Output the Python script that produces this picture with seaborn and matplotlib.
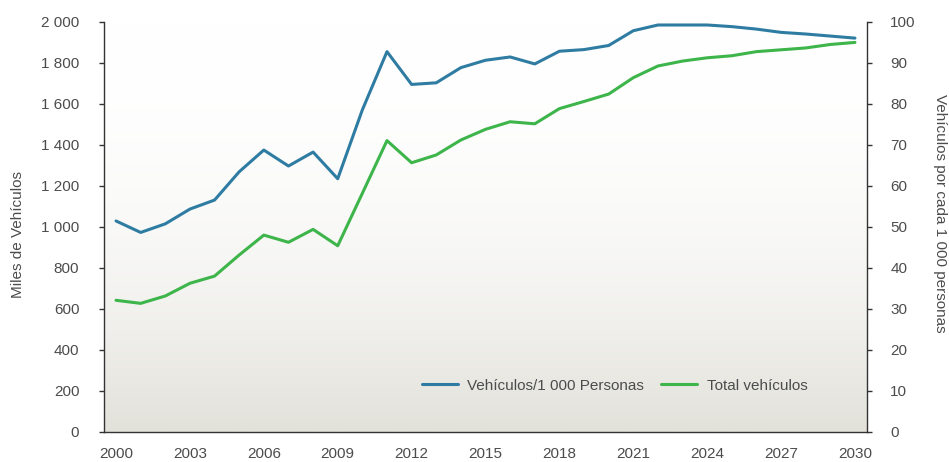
import numpy as np
import pandas as pd
import matplotlib
matplotlib.use("Agg")
import matplotlib.pyplot as plt
from matplotlib.ticker import FixedLocator, FuncFormatter
import seaborn as sns

# data
years = list(range(2000, 2031))
total_vehiculos = [641, 626, 662, 724, 759, 862, 959, 924, 987, 907,
                   1163, 1420, 1312, 1350, 1423, 1475, 1512, 1502, 1576, 1611,
                   1647, 1727, 1784, 1808, 1824, 1834, 1854, 1863, 1872, 1889, 1899]
veh_por_mil = [51.4, 48.6, 50.7, 54.3, 56.5, 63.4, 68.7, 64.8, 68.2, 61.7,
               78.5, 92.7, 84.7, 85.1, 88.8, 90.6, 91.4, 89.7, 92.8, 93.2,
               94.2, 97.8, 99.2, 99.2, 99.2, 98.8, 98.2, 97.4, 97.0, 96.5, 96.0]

df = pd.DataFrame({"idx": np.arange(len(years)), "year": years,
                   "total": total_vehiculos, "permil": veh_por_mil})

sns.set_style("white")
plt.rcParams['font.family'] = ['Liberation Sans', 'DejaVu Sans']

BLUE = "#2f7ca3"
GREEN = "#3db54a"
TXT = "#4c4c4c"
AX = "#333333"
FS = 11

fig = plt.figure(figsize=(9.49, 4.62), dpi=100)
ax = fig.add_axes([0.1093, 0.0656, 0.8046, 0.8874])
ax2 = ax.twinx()

# background gradient, white at top fading to light grey
grad = np.linspace(0, 1, 256) ** 2.2
top = np.array([1.0, 1.0, 1.0])
bot = np.array([226, 225, 218]) / 255
img = top[None, :] * (1 - grad[:, None]) + bot[None, :] * grad[:, None]
ax.imshow(img[:, None, :], extent=[0, 1, 0, 1], transform=ax.transAxes,
          aspect="auto", zorder=0)

sns.lineplot(data=df, x="idx", y="permil", ax=ax2, color=BLUE, lw=2.2,
             label="Vehículos/1 000 Personas", legend=False)
sns.lineplot(data=df, x="idx", y="total", ax=ax, color=GREEN,
             lw=2.2, label="Total vehículos", legend=False, zorder=3)
ax.set_zorder(0)
ax2.set_zorder(1)
ax2.patch.set_visible(False)

ax.set_xlim(-0.5, len(years) - 0.5)
ax.set_ylim(0, 2000)
ax2.set_ylim(0, 100)

ax.xaxis.set_major_locator(FixedLocator(list(range(0, len(years), 3))))
ax.set_xticklabels([str(years[i]) for i in range(0, len(years), 3)])
ax.xaxis.set_minor_locator(FixedLocator(list(np.arange(-0.5, len(years), 1.0))))
ax.tick_params(axis="x", which="major", length=0, pad=11, labelsize=FS, labelcolor=TXT)
ax.tick_params(axis="x", which="minor", length=3.6, direction="out", width=1, color=AX)

ax.set_yticks(range(0, 2001, 200))
ax.yaxis.set_major_formatter(FuncFormatter(lambda v, p: f"{int(v):,}".replace(",", " ")))
ax.tick_params(axis="y", length=3.6, direction="out", width=1, color=AX,
               labelsize=FS, labelcolor=TXT, pad=14)
ax2.set_yticks(range(0, 101, 10))
ax2.tick_params(axis="y", length=3.6, direction="out", width=1, color=AX,
                labelsize=FS, labelcolor=TXT, pad=13)

for a in (ax, ax2):
    for s in a.spines.values():
        s.set_visible(False)
ax.spines["left"].set_visible(True)
ax.spines["bottom"].set_visible(True)
ax2.spines["right"].set_visible(True)
for s in (ax.spines["left"], ax.spines["bottom"], ax2.spines["right"]):
    s.set_color(AX)
    s.set_linewidth(1)

ax.set_xlabel("")
ax.set_ylabel("Miles de Vehículos", fontsize=FS, color=TXT, va="center")
ax.yaxis.set_label_coords(-0.112, 0.48)
ax2.set_ylabel("Vehículos por cada 1 000 personas", fontsize=FS, color=TXT,
               rotation=270, va="center")
ax2.yaxis.set_label_coords(1.095, 0.532)

h1, l1 = ax2.get_legend_handles_labels()
h2, l2 = ax.get_legend_handles_labels()
leg = ax2.legend(h1 + h2, l1 + l2, loc="center right", bbox_to_anchor=(0.922, 0.112),
                 ncol=2, frameon=False, fontsize=FS, handlelength=2.35,
                 columnspacing=1.1, handletextpad=0.65, borderpad=0, borderaxespad=0)
for t in leg.get_texts():
    t.set_color(TXT)

fig.savefig("out.png", dpi=100)
